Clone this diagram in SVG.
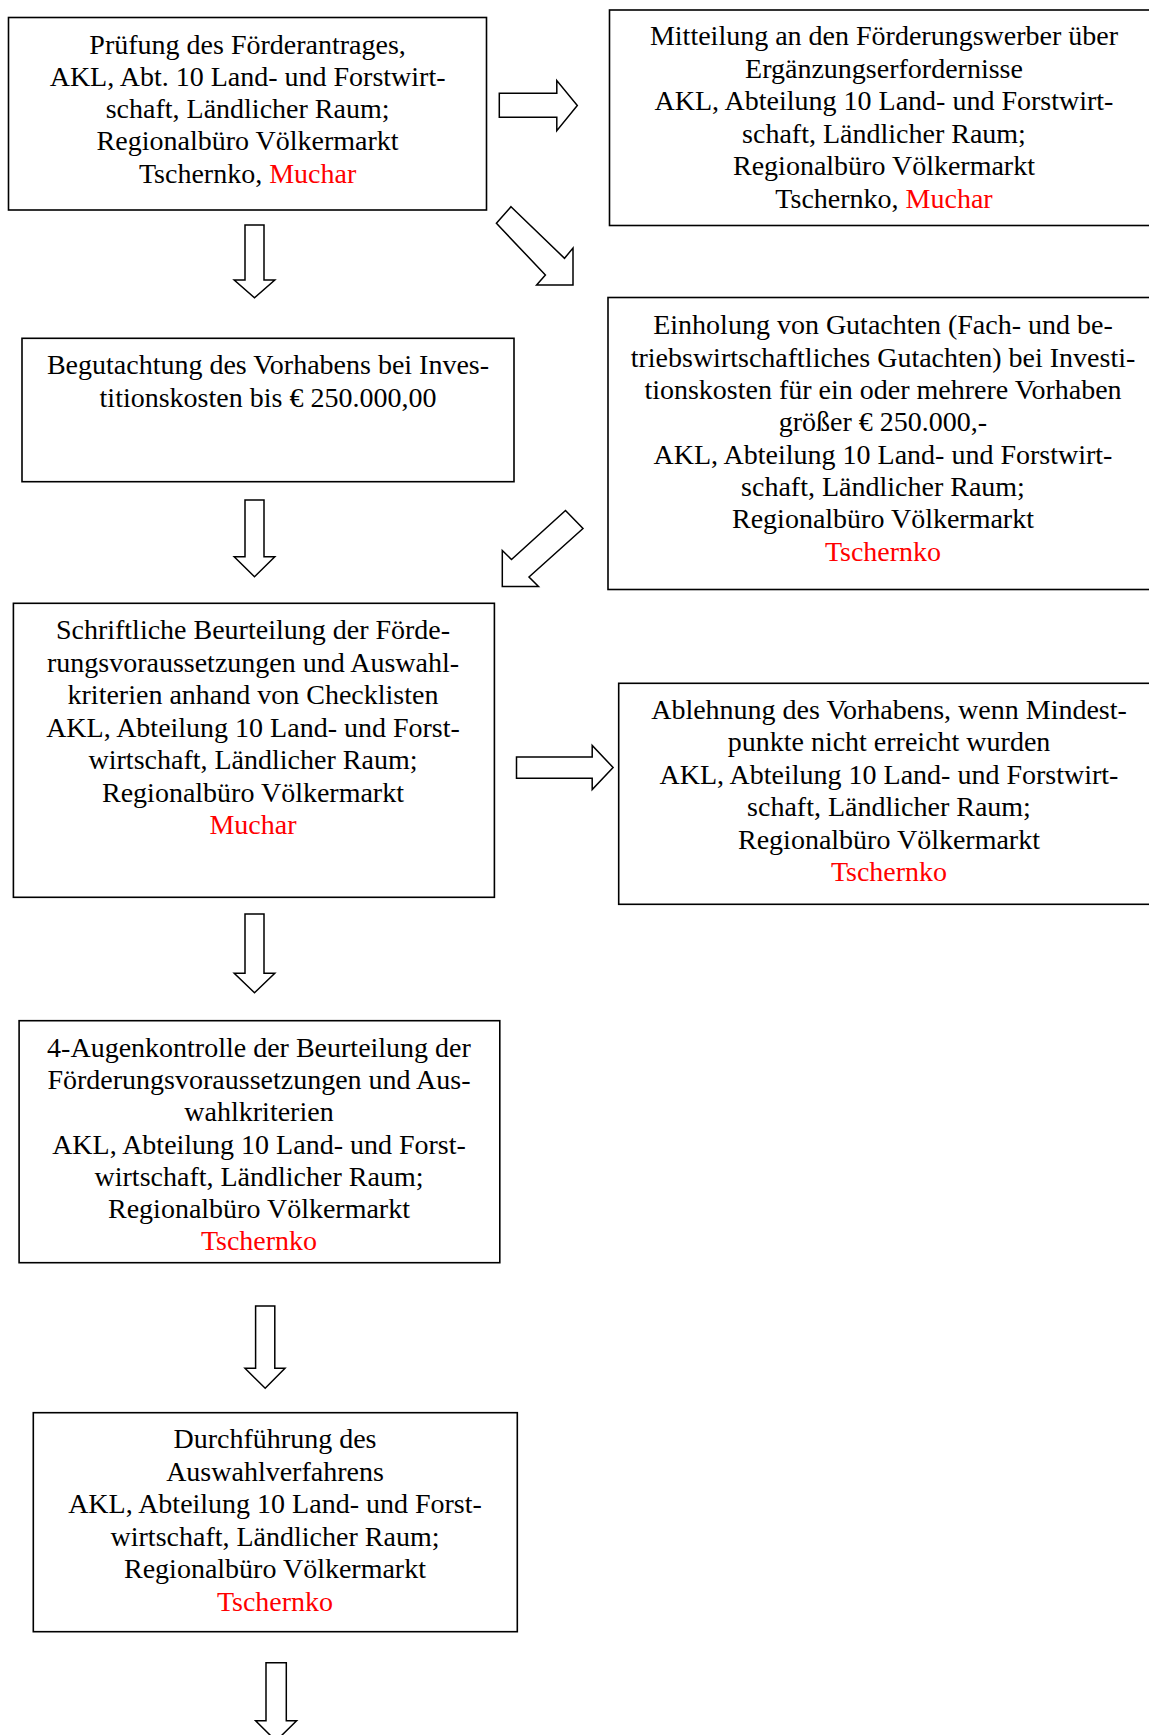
<svg xmlns="http://www.w3.org/2000/svg" width="1149" height="1735" viewBox="0 0 1149 1735">
<style>
.box{fill:#fff;stroke:#000;stroke-width:1.6}
.arr{fill:#fff;stroke:#000;stroke-width:1.5;stroke-linejoin:miter}
text{font-family:"Liberation Serif","Times New Roman",serif;font-size:28px;fill:#000;text-anchor:middle}
.red{fill:#ff0000}
</style>
<rect width="1149" height="1735" fill="#fff"/>
<g id="connectors">
<polygon class="arr" points="499.3,93.3 556.8,93.3 556.8,80.5 577.3,105.5 556.8,130.7 556.8,117.3 499.3,117.3"/>
<polygon class="arr" points="511,206.7 564.5,258.3 573,248 573,285 536.6,285 545.4,275 496.4,223.3"/>
<polygon class="arr" points="245,225 264,225 264,280 274.8,280 254.5,297.7 234.2,280 245,280"/>
<polygon class="arr" points="245,500 264,500 264,556.7 274.8,556.7 254.5,576.7 234.2,556.7 245,556.7"/>
<polygon class="arr" points="583,528.5 529,577 538.5,586.5 502.3,586.5 502.3,550.5 511.5,559.5 565.5,510.5"/>
<polygon class="arr" points="516.5,757 592.2,757 592.2,745.5 613.1,767.5 592.2,789.5 592.2,778.3 516.5,778.3"/>
<polygon class="arr" points="245,914 264,914 264,973.3 274.8,973.3 254.5,992.7 234.2,973.3 245,973.3"/>
<polygon class="arr" points="255.6,1306 274.8,1306 274.8,1368.3 285,1368.3 265.2,1388.3 245,1368.3 255.6,1368.3"/>
<polygon class="arr" points="266,1662.7 286.3,1662.7 286.3,1720.7 296.6,1720.7 276,1741 255.6,1720.7 266,1720.7"/>
</g>
<g id="n1">
<rect class="box" x="8.5" y="17.5" width="478" height="192.5"/>
<text x="247.6" y="53.5">Prüfung des Förderantrages,</text>
<text x="247.6" y="85.8">AKL, Abt. 10 Land- und Forstwirt-</text>
<text x="247.6" y="118.1">schaft, Ländlicher Raum;</text>
<text x="247.6" y="150.4">Regionalbüro Völkermarkt</text>
<text x="247.6" y="182.7">Tschernko, <tspan class="red">Muchar</tspan></text>
</g>
<g id="n2">
<rect class="box" x="609.5" y="10" width="560" height="215.5"/>
<text x="884" y="45">Mitteilung an den Förderungswerber über</text>
<text x="884" y="77.6">Ergänzungserfordernisse</text>
<text x="884" y="110.2">AKL, Abteilung 10 Land- und Forstwirt-</text>
<text x="884" y="142.8">schaft, Ländlicher Raum;</text>
<text x="884" y="175.4">Regionalbüro Völkermarkt</text>
<text x="884" y="208">Tschernko, <tspan class="red">Muchar</tspan></text>
</g>
<g id="n3">
<rect class="box" x="22" y="338.3" width="492" height="143.4"/>
<text x="268" y="374">Begutachtung des Vorhabens bei Inves-</text>
<text x="268" y="406.8">titionskosten bis € 250.000,00</text>
</g>
<g id="n4">
<rect class="box" x="608" y="297.5" width="560" height="292"/>
<text x="883" y="334.4">Einholung von Gutachten (Fach- und be-</text>
<text x="883" y="366.7">triebswirtschaftliches Gutachten) bei Investi-</text>
<text x="883" y="399">tionskosten für ein oder mehrere Vorhaben</text>
<text x="883" y="431.3">größer € 250.000,-</text>
<text x="883" y="463.6">AKL, Abteilung 10 Land- und Forstwirt-</text>
<text x="883" y="496">schaft, Ländlicher Raum;</text>
<text x="883" y="528.3">Regionalbüro Völkermarkt</text>
<text x="883" y="560.6" class="red">Tschernko</text>
</g>
<g id="n5">
<rect class="box" x="13.4" y="603.3" width="481" height="294"/>
<text x="253" y="639.4">Schriftliche Beurteilung der Förde-</text>
<text x="253" y="671.9">rungsvoraussetzungen und Auswahl-</text>
<text x="253" y="704.4">kriterien anhand von Checklisten</text>
<text x="253" y="736.9">AKL, Abteilung 10 Land- und Forst-</text>
<text x="253" y="769.3">wirtschaft, Ländlicher Raum;</text>
<text x="253" y="801.8">Regionalbüro Völkermarkt</text>
<text x="253" y="834.3" class="red">Muchar</text>
</g>
<g id="n6">
<rect class="box" x="618.7" y="683.3" width="560" height="221"/>
<text x="889" y="718.5">Ablehnung des Vorhabens, wenn Mindest-</text>
<text x="889" y="751">punkte nicht erreicht wurden</text>
<text x="889" y="783.5">AKL, Abteilung 10 Land- und Forstwirt-</text>
<text x="889" y="816">schaft, Ländlicher Raum;</text>
<text x="889" y="848.5">Regionalbüro Völkermarkt</text>
<text x="889" y="881" class="red">Tschernko</text>
</g>
<g id="n7">
<rect class="box" x="19.1" y="1020.7" width="480.7" height="242"/>
<text x="259" y="1056.7">4-Augenkontrolle der Beurteilung der</text>
<text x="259" y="1089">Förderungsvoraussetzungen und Aus-</text>
<text x="259" y="1121.2">wahlkriterien</text>
<text x="259" y="1153.5">AKL, Abteilung 10 Land- und Forst-</text>
<text x="259" y="1185.7">wirtschaft, Ländlicher Raum;</text>
<text x="259" y="1218">Regionalbüro Völkermarkt</text>
<text x="259" y="1250.3" class="red">Tschernko</text>
</g>
<g id="n8">
<rect class="box" x="33.3" y="1412.7" width="484" height="219"/>
<text x="275" y="1448.3">Durchführung des</text>
<text x="275" y="1480.8">Auswahlverfahrens</text>
<text x="275" y="1513.3">AKL, Abteilung 10 Land- und Forst-</text>
<text x="275" y="1545.7">wirtschaft, Ländlicher Raum;</text>
<text x="275" y="1578.2">Regionalbüro Völkermarkt</text>
<text x="275" y="1610.7" class="red">Tschernko</text>
</g>
</svg>
